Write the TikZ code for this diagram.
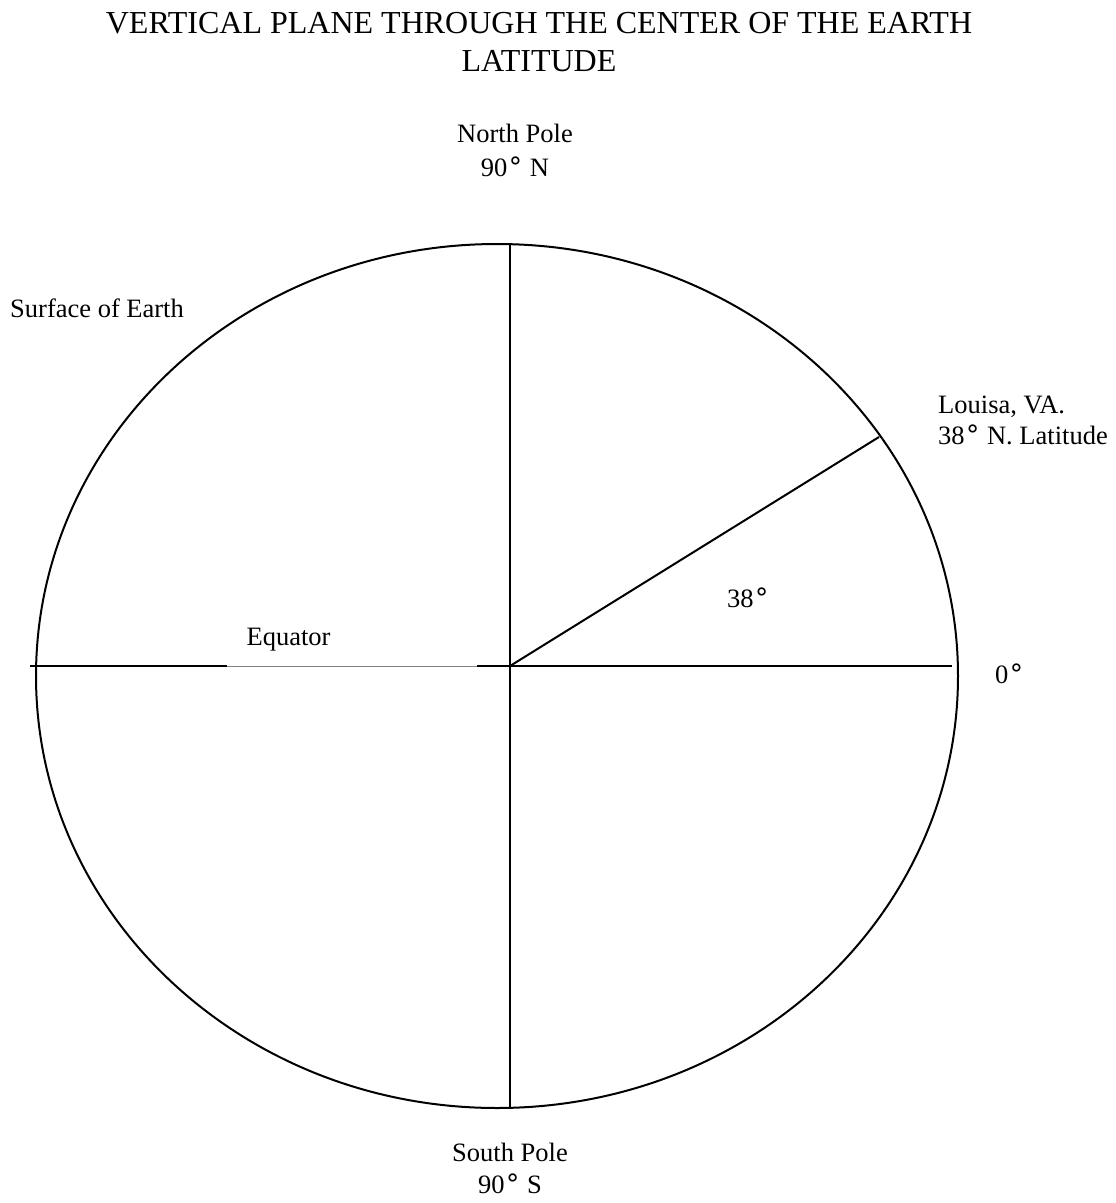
\documentclass[tikz,border=0pt]{standalone}
\usepackage{fontspec}
\setmainfont{Liberation Serif}
\newfontfamily\symfont{DejaVu Sans}
\newcommand{\degr}{\kern1.5pt{\symfont\char"00B0}\kern1pt}
\tikzset{
  lbl/.style={inner sep=0pt,font=\fontsize{26.5}{32}\selectfont},
  ttl/.style={inner sep=0pt,font=\fontsize{32}{38}\selectfont},
  rim/.style={line width=2pt},
  faint/.style={line width=1pt,gray}
}
\begin{document}
\begin{tikzpicture}[x=1pt,y=-1pt,line cap=butt]
  \useasboundingbox (0,0) rectangle (1116,1203);
  % title
  \node[ttl,anchor=base] (title1) at (539,33) {VERTICAL PLANE THROUGH THE CENTER OF THE EARTH};
  \node[ttl,anchor=base] (title2) at (539,71) {LATITUDE};
  % earth outline
  \draw[rim] (497,676) ellipse [x radius=461, y radius=432];
  \coordinate (center) at (510,666);
  \coordinate (npole) at (510,244);
  \coordinate (spole) at (510,1107);
  \coordinate (west) at (30,666);
  \coordinate (east) at (952,666);
  \coordinate (gapL) at (227,666);
  \coordinate (gapR) at (477,666);
  \coordinate (louisa) at (879,437);
  % axis and equator
  \draw[rim] (npole) -- (spole);
  \draw[rim] (west) -- (gapL);
  \draw[faint] (gapL) -- (gapR);
  \draw[rim] (gapR) -- (east);
  \draw[rim] (center) -- (louisa);
  % labels
  \node[lbl,anchor=base] (np1) at (515,142) {North Pole};
  \node[lbl,anchor=base] (np2) at (515,176) {90\degr{} N};
  \node[lbl,anchor=base] (sp1) at (510,1161) {South Pole};
  \node[lbl,anchor=base] (sp2) at (510,1193) {90\degr{} S};
  \node[lbl,anchor=base west] (surf) at (10,317) {Surface of Earth};
  \node[lbl,anchor=base west] (lv1) at (938,413) {Louisa, VA.};
  \node[lbl,anchor=base west] (lv2) at (938,444) {38\degr{} N. Latitude};
  \node[lbl,anchor=base west] (ang) at (727,607) {38\degr};
  \node[lbl,anchor=base west] (zero) at (995,683) {0\degr};
  \node[lbl,anchor=base] (equator) at (288.5,645) {Equator};
\end{tikzpicture}
\end{document}
